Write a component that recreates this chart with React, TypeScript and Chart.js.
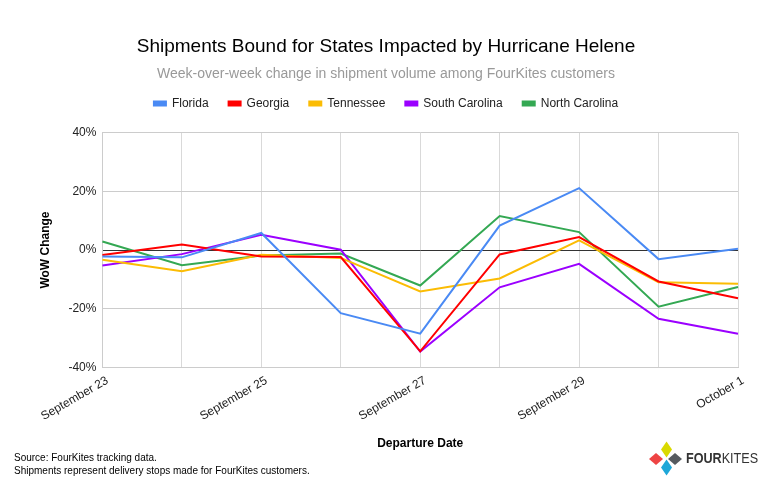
import React, { useEffect, useRef } from "react";
import { Chart, registerables, layouts } from "chart.js";

Chart.register(...registerables);

const categories = [
  "September 23", "September 24", "September 25", "September 26", "September 27",
  "September 28", "September 29", "September 30", "October 1",
];
const florida = [-2.2, -2.5, 5.8, -21.5, -28.5, 8.3, 21.1, -3.1, 0.4];
const georgia = [-1.7, 1.9, -2.2, -2.4, -34.5, -1.5, 4.4, -10.7, -16.4];
const tennessee = [-3.3, -7.2, -1.6, -2.7, -14.1, -9.7, 3.3, -11.0, -11.5];
const southCarolina = [-5.3, -1.4, 5.2, 0.1, -34.6, -12.7, -4.7, -23.4, -28.5];
const northCarolina = [2.9, -5.2, -1.9, -1.2, -12.1, 11.6, 6.1, -19.3, -12.6];
const yTicks = [-40, -20, 0, 20, 40];

const FONT = "'Liberation Sans', Arial, sans-serif";

const spacerPlugin = {
  id: "spacer",
  beforeInit(chart: any) {
    const box: any = {
      position: "top", weight: 500, fullSize: true,
      options: {},
      top: 0, left: 0, right: 0, bottom: 0, width: 0, height: 0,
      isHorizontal() { return true; },
      update(maxWidth: number) { this.width = maxWidth; this.height = 13; },
      draw() {},
    };
    layouts.addBox(chart, box);
  },
};

const footerPlugin = {
  id: "footerLogo",
  afterDraw(chart: any) {
    const ctx = chart.ctx;
    ctx.save();
    ctx.fillStyle = "#000";
    ctx.font = `10px ${FONT}`;
    ctx.textAlign = "left";
    ctx.textBaseline = "middle";
    ctx.fillText("Source: FourKites tracking data.", 14, 458);
    ctx.fillText("Shipments represent delivery stops made for FourKites customers.", 14, 471);

    const diamond = (cx: number, cy: number, w: number, h: number, color: string) => {
      ctx.beginPath();
      ctx.moveTo(cx, cy - h / 2);
      ctx.lineTo(cx + w / 2, cy);
      ctx.lineTo(cx, cy + h / 2);
      ctx.lineTo(cx - w / 2, cy);
      ctx.closePath();
      ctx.fillStyle = color;
      ctx.fill();
    };
    diamond(666.5, 449.5, 11, 16, "#d9d900");
    diamond(656, 459, 14, 12, "#ee4444");
    diamond(675, 459, 14, 12, "#555a5f");
    diamond(666.5, 467.5, 11, 16, "#1ea7d8");

    ctx.fillStyle = "#333";
    ctx.font = `bold 14px ${FONT}`;
    ctx.translate(686, 459);
    ctx.scale(0.9, 1);
    ctx.fillText("FOUR", 0, 0);
    const w = ctx.measureText("FOUR").width;
    ctx.font = `14px ${FONT}`;
    ctx.fillText("KITES", w, 0);
    ctx.restore();
  },
};

export default function App() {
  const ref = useRef<HTMLCanvasElement | null>(null);
  useEffect(() => {
    if (!ref.current) return;
    const mk = (label: string, data: number[], color: string) => ({
      label, data, borderColor: color, backgroundColor: color, borderWidth: 2,
      pointRadius: 0, tension: 0,
    });
    const chart = new Chart(ref.current, {
      type: "line",
      data: {
        labels: categories,
        datasets: [
          mk("Florida", florida, "#4a8af4"),
          mk("Georgia", georgia, "#ff0000"),
          mk("Tennessee", tennessee, "#fbbc04"),
          mk("South Carolina", southCarolina, "#9b00ff"),
          mk("North Carolina", northCarolina, "#34a853"),
        ],
      },
      options: {
        animation: false,
        responsive: false,
        layout: { padding: { left: 34, right: 41, top: 20, bottom: 39 } },
        plugins: {
          title: {
            display: true,
            text: "Shipments Bound for States Impacted by Hurricane Helene",
            color: "#000",
            font: { family: FONT, size: 19, weight: "normal" },
            padding: { top: 15, bottom: 8 },
          },
          subtitle: {
            display: true,
            text: "Week-over-week change in shipment volume among FourKites customers",
            color: "#999",
            font: { family: FONT, size: 14, weight: "normal" },
            padding: { top: 0, bottom: -5 },
          },
          legend: {
            display: true,
            labels: {
              boxWidth: 12, boxHeight: 4, padding: 20,
              color: "#222",
              font: { family: FONT, size: 12 },
            },
          },
          tooltip: { enabled: false },
        },
        scales: {
          x: {
            offset: false,
            grid: { color: "#d9d9d9", drawTicks: false },
            border: { color: "#cccccc" },
            ticks: {
              autoSkip: false,
              maxRotation: 30, minRotation: 30,
              color: "#222",
              font: { family: FONT, size: 12 },
              padding: 6,
              labelOffset: 5,
              callback: (_v: any, i: number) => (i % 2 === 0 ? categories[i] : ""),
            },
            title: {
              display: true, text: "Departure Date", color: "#000",
              font: { family: FONT, size: 12, weight: "bold" },
              padding: { top: 7 },
            },
          },
          y: {
            min: -40, max: 40,
            afterBuildTicks: (axis: any) => { axis.ticks = yTicks.map((v) => ({ value: v })); },
            grid: {
              color: (c: any) => (c.tick && c.tick.value === 0 ? "#333" : "#cccccc"),
              drawTicks: false,
            },
            border: { color: "#cccccc" },
            ticks: {
              color: "#222",
              font: { family: FONT, size: 12 },
              padding: 6,
              callback: (v: any) => `${v}%`,
            },
            title: {
              display: true, text: "WoW Change", color: "#000",
              font: { family: FONT, size: 12, weight: "bold" },
              padding: { bottom: 10 },
            },
          },
        },
      },
      plugins: [spacerPlugin, footerPlugin],
    });
    return () => chart.destroy();
  }, []);
  return (
    <div style={{ position: "fixed", left: 0, top: 0, width: 779, height: 494, background: "#fff" }}>
      <canvas ref={ref} width={779} height={494} style={{ display: "block" }} />
    </div>
  );
}
